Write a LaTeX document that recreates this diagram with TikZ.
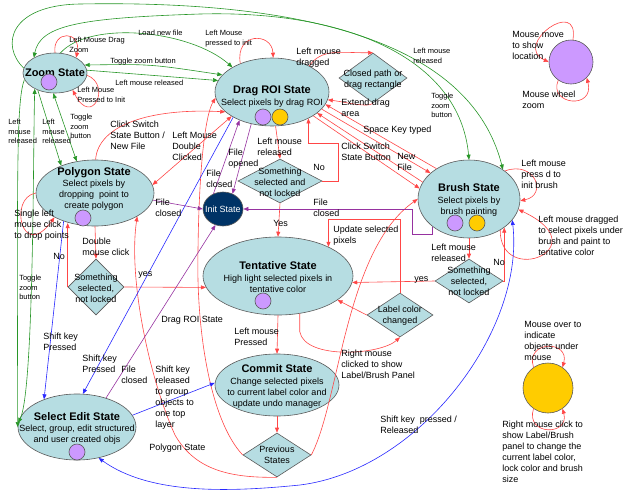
\documentclass[tikz,border=0pt]{standalone}
\usepackage{fontspec}
\setmainfont{Liberation Sans}
\usetikzlibrary{shapes.geometric,arrows.meta}
\definecolor{stfill}{RGB}{182,221,226}
\definecolor{stline}{RGB}{90,90,90}
\definecolor{dotpurple}{RGB}{204,153,255}
\definecolor{dotyellow}{RGB}{255,204,0}
\definecolor{initblue}{RGB}{0,51,102}
\definecolor{redline}{RGB}{255,70,70}
\definecolor{greenline}{RGB}{40,150,40}
\definecolor{blueline}{RGB}{40,40,255}
\definecolor{purpleline}{RGB}{150,50,160}
\begin{document}
\begin{tikzpicture}[x=1pt,y=-1pt,>={Triangle[length=5pt,width=4pt]},line width=0.6pt,
    state/.style={ellipse,draw=stline,fill=stfill,inner sep=0pt},
    decision/.style={diamond,draw=stline,fill=stfill,inner sep=0pt},
    dot/.style={circle,draw=stline,fill=dotpurple,minimum size=16,inner sep=0pt},
    ydot/.style={dot,fill=dotyellow},
    ttl/.style={anchor=base,inner sep=0pt,font=\fontsize{11}{13}\selectfont\bfseries},
    sub/.style={anchor=north,align=center,inner sep=0pt,font=\fontsize{9}{11}\selectfont},
    lbl/.style={anchor=north west,align=left,inner sep=0pt,font=\fontsize{9}{11}\selectfont},
    slbl/.style={lbl,font=\fontsize{7.5}{9.5}\selectfont},
    rl/.style={draw=redline,->},
    gl/.style={draw=greenline,->},
    bl/.style={draw=blueline,->},
    pl/.style={draw=purpleline,->}]
\useasboundingbox (0,0) rectangle (625,491);

% states
\node[state,minimum width=64,minimum height=40] (zoom) at (55,73) {};
\node[state,minimum width=114,minimum height=68] (drag) at (272,92) {};
\node[state,minimum width=118,minimum height=66] (poly) at (95,193) {};
\node[state,minimum width=150,minimum height=78] (tent) at (278,276) {};
\node[state,minimum width=102,minimum height=78] (brush) at (469,199) {};
\node[state,minimum width=124,minimum height=62] (commit) at (277,385) {};
\node[state,minimum width=118,minimum height=66] (edit) at (77,427) {};
\node[state,fill=initblue,minimum width=40,minimum height=34] (init) at (223,209) {};
\node[decision,minimum width=68,minimum height=50] (closed) at (373,78) {};
\node[decision,minimum width=84,minimum height=44] (sel1) at (280,181) {};
\node[decision,minimum width=68,minimum height=44] (sel2) at (469,281) {};
\node[decision,minimum width=56,minimum height=56] (sel3) at (96,287) {};
\node[decision,minimum width=66,minimum height=44] (label) at (400,315) {};
\node[decision,minimum width=68,minimum height=44] (prev) at (277,455) {};
\node[dot,minimum size=44] (move) at (571,62) {};
\node[ydot,minimum size=50] (over) at (548,388) {};

% texts in states
\node[ttl] at (55,76) {Zoom State};
\node[ttl] at (272,93) {Drag ROI State};
\node[sub] at (272,98.5) {Select pixels by drag ROI};
\node[ttl] at (94,175) {Polygon State};
\node[sub] at (94,179.5) {Select pixels by\\dropping~ point to\\create polygon};
\node[ttl] at (278,269) {Tentative State};
\node[sub] at (278,274.5) {High light selected pixels in\\tentative color};
\node[ttl] at (469,191) {Brush State};
\node[sub] at (469,196.5) {Select pixels by\\brush painting};
\node[ttl] at (277,372) {Commit State};
\node[sub] at (277,377.5) {Change selected pixels\\to current label color and\\update undo manager};
\node[ttl] at (77,420) {Select Edit State};
\node[sub] at (77,424.5) {Select, group, edit structured\\and user created objs};
\node[sub,text=white] at (223,205.5) {Init State};
\node[sub] at (373,69.5) {Closed path or\\drag rectangle};
\node[sub] at (280,167.5) {Something\\selected and\\not locked};
\node[sub] at (469,266.5) {Something\\selected,\\not locked};
\node[sub] at (96,273.5) {Something\\selected,\\not locked};
\node[sub] at (400,305.5) {Label color\\changed};
\node[sub] at (277,445.5) {Previous\\States};

\node[dot] (zoomdot) at (49,82) {};
\node[dot] (dragdotA) at (263,117) {};
\node[ydot] (dragdotB) at (280,117) {};
\node[dot] (polydot) at (83,218) {};
\node[dot] (tentdot) at (263,301) {};
\node[dot] (brushdotA) at (455,223) {};
\node[ydot] (brushdotB) at (477,223) {};
\node[dot] (editdot) at (77,452) {};

% green
\draw[gl] (zoom.171) .. controls (0,45) and (10,5) .. (80,4) .. controls (300,0) and (470,40) .. (brush.41);
\draw[gl,<->] (zoom.144) .. controls (40,25) and (80,18) .. (200,14) .. controls (350,10) and (460,60) .. (brush.90);
\draw[gl] (zoom.75) .. controls (90,20) and (190,30) .. (drag.148);
\draw[gl,<->] (zoom.15) .. controls (150,64) .. (drag.161);
\draw[gl] (zoom.5) .. controls (150,75) .. (drag.168);
\draw[gl] (zoom.192) .. controls (17,100) and (17,150) .. (edit.west);
\draw[gl,<->] (zoom.218) .. controls (33,150) and (34,390) .. (edit.176);
\draw[gl] (zoom.225) -- (poly.141);
\draw[gl,<->] (zoom.265) -- (poly.120);

% red
\draw[rl] (zoom.90) .. controls (52,30) and (82,30) .. (zoom.36);
\draw[rl] (zoom.-4) .. controls (112,85) and (92,128) .. (zoom.-44);
\draw[rl] (drag.138) .. controls (235,32) and (272,32) .. (drag.88);
\draw[rl] (drag.35) .. controls (322,48) and (340,53) .. (closed.north);
\draw[rl] (closed.south) .. controls (368,108) and (345,102) .. (drag.-8);
\draw[rl] (brush.137) -- (drag.-13);
\draw[rl] (drag.-19) -- (brush.146);
\draw[rl] (brush.160) -- (drag.-25);
\draw[rl] (drag.-30) -- (brush.168);
\draw[rl] (drag.-84) -- (sel1.north);
\draw[rl] (sel1.east) -- ++(16,0) -- ++(0,-38) -| (drag.-36);
\draw[rl] (sel1.south) -- (tent.north);
\draw[rl] (poly.south) -- (sel3.north);
\draw[rl] (sel3.east) -- (tent.189);
\draw[rl] (sel3.west) -- (sel3.west |- poly.230);
\draw[rl] (poly.180) .. controls (8,198) and (22,262) .. (poly.211);
\draw[rl,<->] (drag.211) -- (poly.8);
\draw[rl] (poly.89) .. controls (98,125) and (150,108) .. (drag.203);
\draw[rl] (prev.west) .. controls (210,420) and (196,330) .. (198,250) .. controls (199,170) and (205,115) .. (drag.186);
\draw[rl] (prev.south) .. controls (230,478) and (195,470) .. (175,435) .. controls (150,380) and (128,280) .. (poly.-29);
\draw[rl] (prev.east) .. controls (340,400) and (345,250) .. (brush.180);
\draw[rl] (tent.south) -- (commit.north);
\draw[rl] (commit.south) -- (prev.north);
\draw[rl] (tent.300) -- ++(0,18) .. controls (305,360) and (380,355) .. (label.south);
\draw[rl] (label.west) -- (tent.-22);
\draw[rl] (label.north) -- ++(0,-73) -| (tent.30);
\draw[rl] (sel2.west) -- (tent.355);
\draw[rl] (sel2.east) -| (brush.-39);
\draw[rl] (brush.south) -- (sel2.north);
\draw[rl] (brush.38) .. controls (535,160) and (548,195) .. (brush.-2);
\draw[rl] (brush.-45) .. controls (500,288) and (600,248) .. (brush.-12);
\draw[rl] (move.85) .. controls (580,-4) and (512,45) .. (move.180);
\draw[rl] (move.235) .. controls (548,105) and (595,110) .. (move.-45);
\draw[rl] (over.125) .. controls (525,340) and (570,340) .. (over.55);
\draw[rl] (over.235) .. controls (525,436) and (570,436) .. (over.-55);

% blue
\draw[bl] (poly.222) -- (edit.140);
\draw[bl] (drag.213) -- (edit.80);
\draw[bl] (edit.12) -- (commit.178);
\draw[bl,<->] (edit.305) .. controls (150,495) and (230,492) .. (300,485) .. controls (420,470) and (525,330) .. (brush.-26);

% purple
\draw[pl] (poly.-7) -- (init.180);
\draw[pl] (brush.217) -- ++(0,8) -- ++(-20,0) |- (init.0);
\draw[pl] (init.122) -- (drag.221);
\draw[pl] (drag.237) -- (init.58);
\draw[pl] (edit.45) -- (init.245);

% labels
\node[slbl] at (69,37) {Left Mouse Drag\\Zoom};
\node[slbl] at (138,30) {Load new file};
\node[slbl] at (110,58) {Toggle zoom button};
\node[slbl] at (115,80) {Left mouse released};
\node[slbl] at (77,87) {Left Mouse\\Pressed to Init};
\node[slbl] at (8,119) {Left\\mouse\\released};
\node[slbl] at (42,119) {Left\\mouse\\released};
\node[slbl] at (70,114) {Toggle\\zoom\\button};
\node[slbl] at (205,30) {Left Mouse\\pressed to init};
\node[slbl] at (413,48) {Left mouse\\released};
\node[slbl] at (431,93) {Toggle\\zoom\\button};
\node[slbl] at (19,275) {Toggle\\zoom\\button};
\node[lbl] at (296,47.5) {Left mouse\\dragged};
\node[lbl] at (341,98.5) {Extend drag\\area};
\node[lbl] at (363,125.5) {Space Key typed};
\node[lbl] at (341,142.5) {Click Switch\\State Button};
\node[lbl] at (397,153.5) {New\\File};
\node[lbl] at (257,137.5) {Left mouse\\released};
\node[lbl] at (313,164.5) {No};
\node[lbl] at (273,220.5) {Yes};
\node[lbl] at (228,148.5) {File\\opened};
\node[lbl] at (206,169.5) {File\\closed};
\node[lbl] at (155,198.5) {File\\closed};
\node[lbl] at (313,198.5) {File\\closed};
\node[lbl] at (110,120.5) {Click Switch\\State Button /\\New File};
\node[lbl] at (172,131.5) {Left Mouse\\Double\\Clicked};
\node[lbl] at (333,225.5) {Update selected\\pixels};
\node[lbl] at (521,159.5) {Left mouse\\press d to\\init brush};
\node[lbl] at (538,215.5) {Left mouse dragged\\to select pixels under\\brush and paint to\\tentative color};
\node[lbl] at (431,243.5) {Left mouse\\released};
\node[lbl] at (493,259.5) {No};
\node[lbl] at (414,276.5) {yes};
\node[lbl] at (14,209.5) {Single left\\mouse click\\to drop points};
\node[lbl] at (82,237.5) {Double\\mouse click};
\node[lbl] at (53,253.5) {No};
\node[lbl] at (138,271.5) {yes};
\node[lbl] at (43,332.5) {Shift key\\Pressed};
\node[lbl] at (82,354.5) {Shift key\\Pressed};
\node[lbl] at (121,365.5) {File\\closed};
\node[lbl] at (155,365.5) {Shift key\\released\\to group\\objects to\\one top\\layer};
\node[lbl] at (149,443.5) {Polygon State};
\node[lbl] at (161,315.5) {Drag ROI State};
\node[lbl] at (234,327.5) {Left mouse\\Pressed};
\node[lbl] at (341,349.5) {Right mouse\\clicked to show\\Label/Brush Panel};
\node[lbl] at (380,415.5) {Shift key~~pressed /\\Released};
\node[lbl] at (512,31.5) {Mouse move\\to show\\location};
\node[lbl] at (522,90.5) {Mouse wheel\\zoom};
\node[lbl] at (524,321.5) {Mouse over to\\indicate\\objects under\\mouse};
\node[lbl] at (502,420.5) {Right mouse click to\\show Label/Brush\\panel to change the\\current label color,\\lock color and brush\\size};
\end{tikzpicture}
\end{document}
